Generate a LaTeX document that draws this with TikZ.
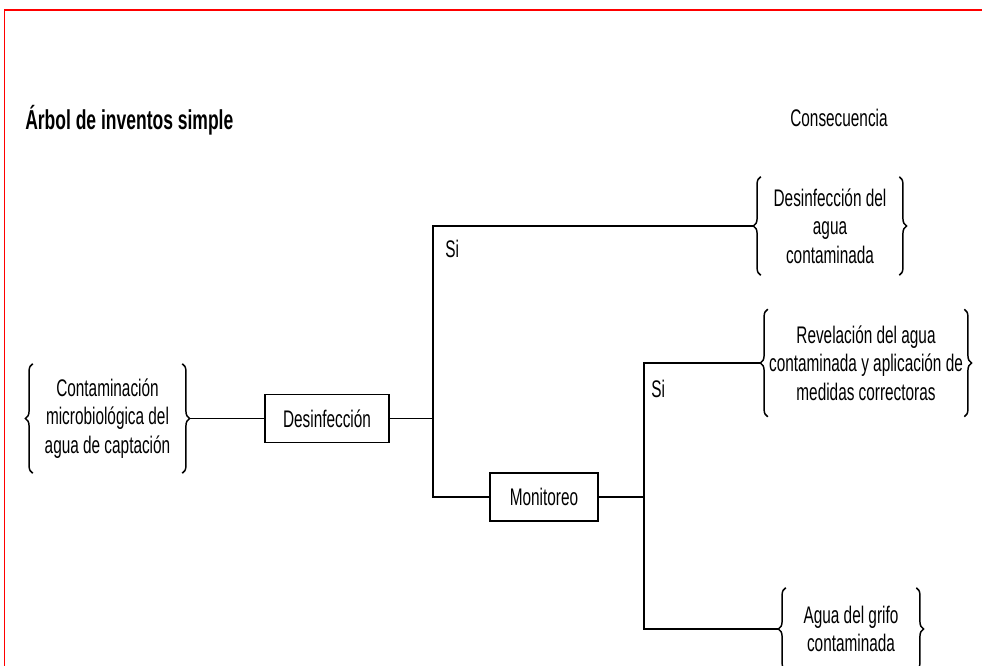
\documentclass[tikz,border=0pt]{standalone}
\usepackage{fontspec}
\setmainfont{Liberation Sans}[FakeStretch=0.64]
\usetikzlibrary{decorations.pathreplacing}
\begin{document}
\begin{tikzpicture}[x=0.75pt,y=-0.75pt,
  txt/.style={font=\fontsize{18}{21}\selectfont, inner sep=0pt, align=center},
  boxnode/.style={draw, line width=1.3pt, inner sep=0pt, font=\fontsize{18}{21}\selectfont},
  bracenode/.style={font=\fontsize{18}{21.5}\selectfont, inner sep=0pt, align=center},
  br/.style={decorate, line width=1.1pt, decoration={brace, amplitude=5.5pt, aspect=0.5}},
  conn/.style={line width=1.3pt}
]
\useasboundingbox (0,0) rectangle (982,666);
% red frame
\draw[red, line width=1.6pt] (4,10) -- (982,10);
\draw[red, line width=0.8pt] (4.5,10) -- (4.5,666);

% titles
\node[anchor=west, font=\fontsize{20.5}{23}\selectfont\bfseries, inner sep=0pt] (title) at (25,120) {Árbol de inventos simple};
\node[txt] (cons) at (839,118) {Consecuencia};

% source node with braces
\node[bracenode, minimum width=165*0.75pt, minimum height=109*0.75pt] (src) at (107.5,418.5) {Contaminación\\microbiológica del\\agua de captación};
\draw[br] ([xshift=6pt]src.south west) -- ([xshift=6pt]src.north west);
\draw[br] ([xshift=-6pt]src.north east) -- ([xshift=-6pt]src.south east);

% boxes
\node[boxnode, minimum width=124*0.75pt, minimum height=48*0.75pt] (desinf) at (327,418.5) {Desinfección};
\node[boxnode, minimum width=108*0.75pt, minimum height=48*0.75pt] (monit) at (544,497) {Monitoreo};

% consequence nodes
\node[bracenode, minimum width=154*0.75pt, minimum height=98*0.75pt] (c1) at (830,226) {Desinfección del\\agua\\contaminada};
\draw[br] ([xshift=6pt]c1.south west) -- ([xshift=6pt]c1.north west);
\draw[br] ([xshift=-6pt]c1.north east) -- ([xshift=-6pt]c1.south east);

\node[bracenode, minimum width=212*0.75pt, minimum height=107*0.75pt] (c2) at (866,363) {Revelación del agua\\contaminada y aplicación de\\medidas correctoras};
\draw[br] ([xshift=6pt]c2.south west) -- ([xshift=6pt]c2.north west);
\draw[br] ([xshift=-6pt]c2.north east) -- ([xshift=-6pt]c2.south east);

\node[bracenode, minimum width=146*0.75pt, minimum height=82*0.75pt] (c3) at (851,629) {Agua del grifo\\contaminada};
\draw[br] ([xshift=6pt]c3.south west) -- ([xshift=6pt]c3.north west);
\draw[br] ([xshift=-6pt]c3.north east) -- ([xshift=-6pt]c3.south east);

% junctions
\coordinate (j1) at (433,418.5);
\coordinate (j2) at (644,497);

% connectors
\draw[conn] (src.east) -- (desinf.west);
\draw[conn] (desinf.east) -- (j1);
\draw[conn] (c1.west) -| (j1) |- (monit.west);
\draw[conn] (monit.east) -- (j2);
\draw[conn] (c2.west) -| (j2) |- (c3.west);

% labels
\node[txt, anchor=west] (si1) at (445,249) {Si};
\node[txt, anchor=west] (si2) at (651,389) {Si};
\end{tikzpicture}
\end{document}
